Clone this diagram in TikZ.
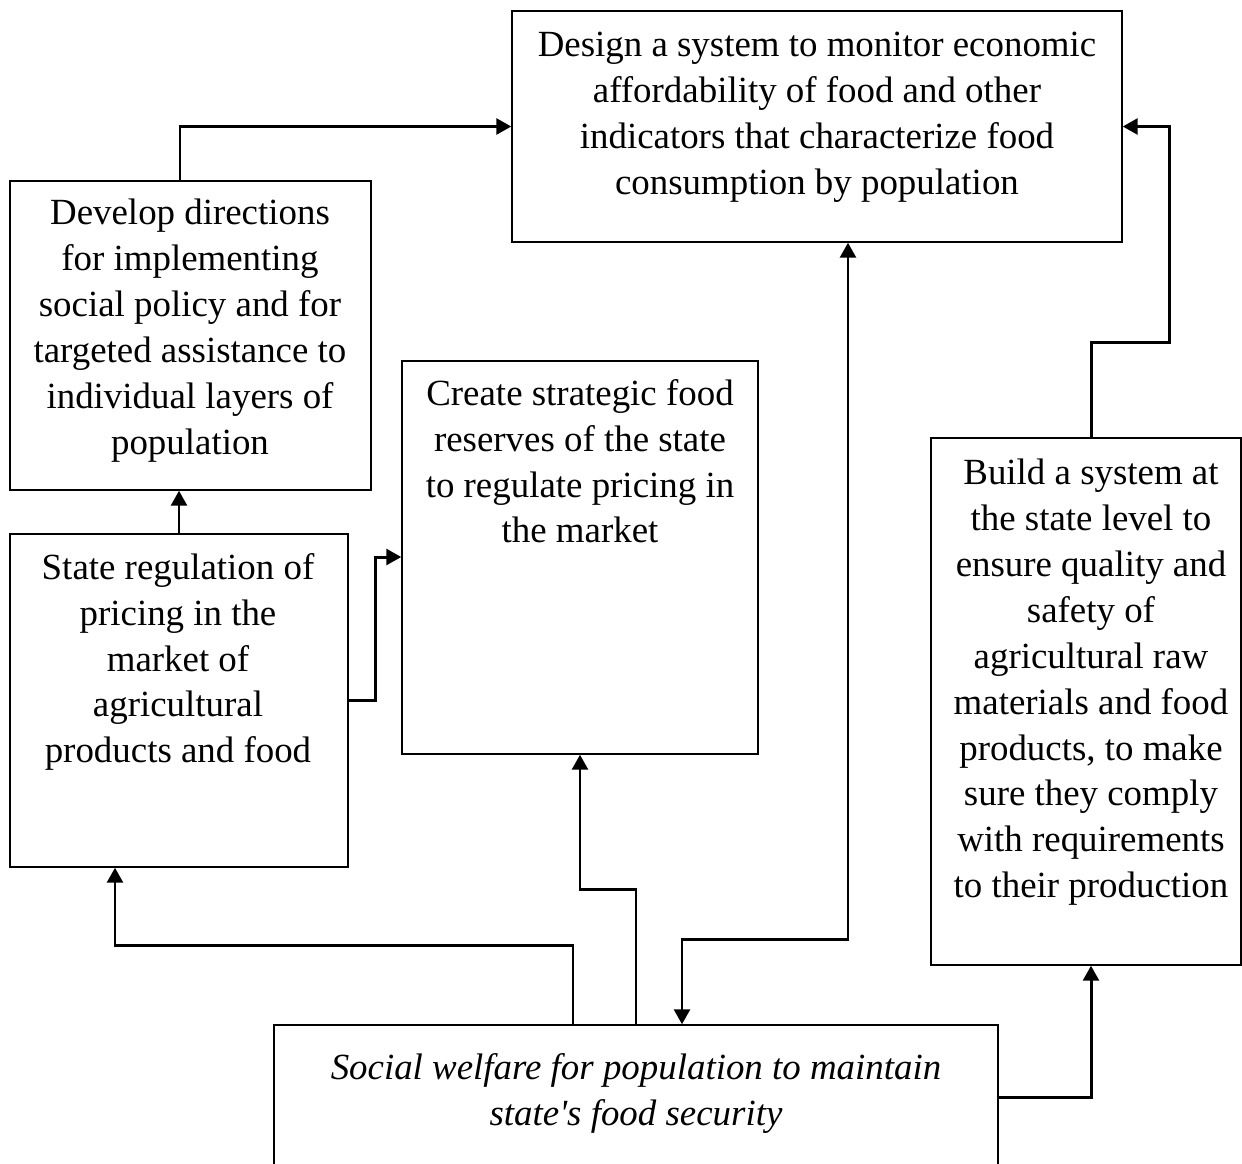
\documentclass[tikz,border=0pt]{standalone}
\usepackage{fontspec}
\setmainfont{Liberation Serif}
\usetikzlibrary{arrows.meta,fit}

\begin{document}
\begin{tikzpicture}[
  x=0.02cm, y=-0.02cm,
  >={Triangle[length=8.5pt,width=9pt]},
  box/.style={draw,line width=0.8pt,inner sep=0pt},
  txt/.style={align=center,inner sep=0pt,anchor=north,
              font=\fontsize{21}{26.1}\selectfont},
  arr/.style={->,line width=1.7pt}
]
  \useasboundingbox (0,0) rectangle (1242,1164);
  % boxes
  \node[box,fit={(512,11) (1122,242)}] (design) {};
  \node[box,fit={(10,181) (371,490)}] (develop) {};
  \node[box,fit={(402,361) (758,754)}] (create) {};
  \node[box,fit={(10,534) (348,867)}] (statereg) {};
  \node[box,fit={(931,438) (1241,965)}] (build) {};
  \node[box,fit={(274,1025) (998,1190)}] (welfare) {};
  % texts
  \node[txt] (designtxt) at (817,32) {Design a system to monitor economic\\
    affordability of food and other\\indicators that characterize food\\
    consumption by population};
  \node[txt] (developtxt) at (190,199) {Develop directions\\for implementing\\
    social policy and for\\targeted assistance to\\individual layers of\\population};
  \node[txt] (createtxt) at (580,379) {Create strategic food\\reserves of the state\\
    to regulate pricing in\\the market};
  \node[txt] (stateregtxt) at (178,553) {State regulation of\\pricing in the\\
    market of\\agricultural\\products and food};
  \node[txt] (buildtxt) at (1091,459) {Build a system at\\the state level to\\
    ensure quality and\\safety of\\agricultural raw\\materials and food\\
    products, to make\\sure they comply\\with requirements\\to their production};
  \node[txt,font=\fontsize{21}{26.1}\selectfont\itshape] (welfaretxt) at (636,1053)
    {Social welfare for population to maintain\\state\textquotesingle s food security};
  % connectors
  \draw[arr] (develop.north -| 180,0) |- (design.west);
  \draw[arr] (statereg.north) -- (statereg.north |- develop.south);
  \draw[arr] (statereg.east) -- ++(27,0) |- (create.west |- 0,557);
  \draw[arr] (welfare.north -| 573,0) -- ++(0,-79) -| (statereg.south -| 115,0);
  \draw[arr] (welfare.north -| 636,0) -- ++(0,-135) -| (create.south);
  \draw[arr,<->] (welfare.north -| 682,0) -- ++(0,-85) -| (design.south -| 848,0);
  \draw[arr] (welfare.east |- 0,1097) -| (build.south -| 1091,0);
  \draw[arr] (build.north -| 1091,0) |- (1169,342) |- (design.east);
\end{tikzpicture}
\end{document}
